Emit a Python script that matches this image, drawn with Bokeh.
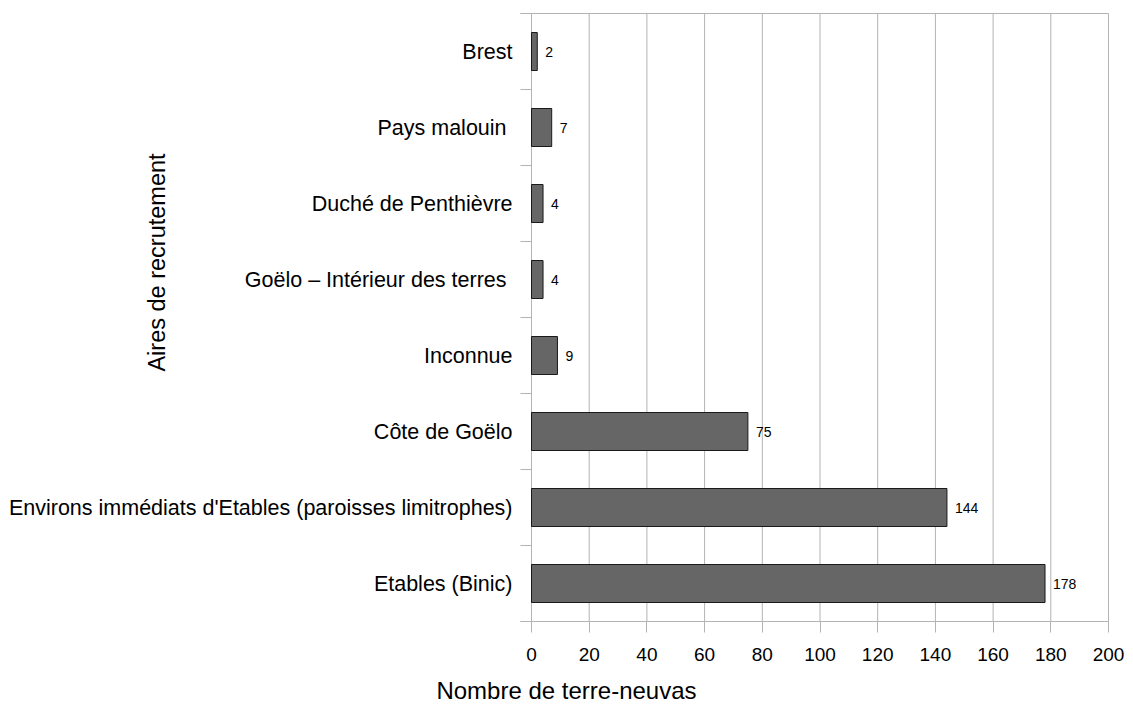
import math
from bokeh.plotting import figure
from bokeh.models import (Range1d, LinearAxis, FixedTicker, ColumnDataSource, LabelSet)
from bokeh.core.properties import value
from bokeh.embed import file_html
from bokeh.resources import INLINE

categories = ["Etables (Binic)",
              "Environs immédiats d'Etables (paroisses limitrophes)",
              "Côte de Goëlo",
              "Inconnue",
              "Goëlo – Intérieur des terres ",
              "Duché de Penthièvre",
              "Pays malouin ",
              "Brest"]
values = [178, 144, 75, 9, 4, 4, 7, 2]
x_ticks = [0, 20, 40, 60, 80, 100, 120, 140, 160, 180, 200]
x_title = "Nombre de terre-neuvas"
y_title = "Aires de recrutement"

FONT = "Liberation Sans"
GRID = "#b3b3b3"

n = len(categories)
centers = [i + 0.5 for i in range(n)]
bounds = list(range(n + 1))

# layout constants (pixels)
W, H = 1132, 710
PLOT_L, PLOT_R, PLOT_T, PLOT_B = 531, 1108, 13, 621
FRAME_T, FRAME_B = 5, 623
XMAX = 200
px_per_x = (PLOT_R - PLOT_L) / XMAX
px_per_y = (PLOT_B - PLOT_T) / n
tick_len = 11 / px_per_x

p = figure(width=W, height=H, output_backend="svg", toolbar_location=None,
           x_range=Range1d(-PLOT_L / px_per_x, (W - PLOT_L) / px_per_x),
           y_range=Range1d(-(FRAME_B - PLOT_B) / px_per_y, n + (PLOT_T - FRAME_T) / px_per_y),
           x_axis_location=None, y_axis_location=None,
           min_border_left=0, min_border_top=FRAME_T, min_border_right=0,
           min_border_bottom=H - FRAME_B)
p.outline_line_color = None
p.grid.visible = False

# bottom axis
xa = LinearAxis(ticker=FixedTicker(ticks=x_ticks))
xa.axis_line_color = None
xa.major_tick_line_color = GRID
xa.major_tick_out = 9
xa.major_tick_in = 2
xa.minor_tick_line_color = None
xa.major_label_text_font = FONT
xa.major_label_text_font_size = "19px"
xa.major_label_text_color = "black"
xa.major_label_standoff = 15
xa.axis_label = x_title
xa.axis_label_text_font = FONT
xa.axis_label_text_font_size = "24px"
xa.axis_label_text_font_style = "normal"
xa.axis_label_text_color = "black"
xa.axis_label_standoff = 13
p.add_layout(xa, "below")

# vertical grid lines
p.segment(x0=x_ticks, x1=x_ticks, y0=0, y1=n, line_color=GRID, line_width=1)
# top and bottom frame lines
p.segment(x0=[-tick_len, -tick_len], x1=[XMAX, XMAX], y0=[0, n], y1=[0, n],
          line_color=GRID, line_width=1)
# category boundary ticks
p.segment(x0=-tick_len, x1=0, y0=bounds, y1=bounds, line_color=GRID, line_width=1)

src = ColumnDataSource(dict(y=centers, cat=categories, val=values, lab=[str(v) for v in values]))
p.hbar(y="y", left=0, right="val", height=0.5, source=src,
       fill_color="#666666", line_color="#1a1a1a", line_width=1)

# category labels
p.text(x=0, y="y", text="cat", source=src, x_offset=-19, text_align="right",
       text_baseline="middle", text_font=value(FONT), text_font_size="21.5px",
       text_color="black")

# value labels
p.add_layout(LabelSet(x="val", y="y", text="lab", source=src, x_offset=8,
                      text_baseline="middle", text_font=value(FONT), text_font_size=value("14px"),
                      text_color="black"))

# y axis title
p.text(x=[(156.5 - PLOT_L) / px_per_x], y=[(PLOT_B - 262) / px_per_y], text=[y_title],
       angle=math.pi / 2, text_align="center", text_baseline="middle",
       text_font=value(FONT), text_font_size="23.5px", text_color="black")

open("out.html", "w").write(file_html(p, INLINE))
